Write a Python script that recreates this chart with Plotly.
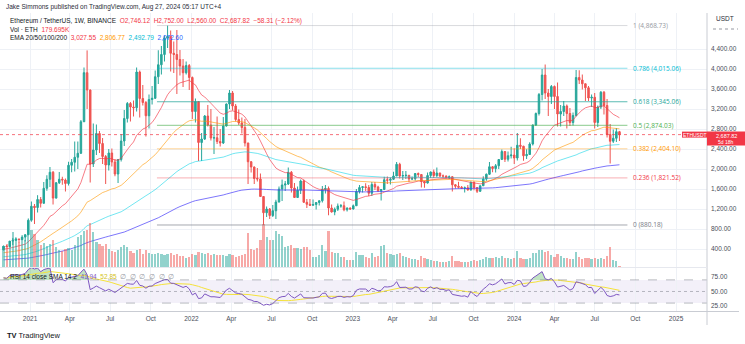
import plotly.graph_objects as go
import pandas as pd

W, H = 745, 344

# ---------------- data (weekly ETH/USDT) ----------------
first_open = 383
close_2020 = [454, 447, 558, 575, 601, 590, 638, 685, 975]
high_2020 = [470, 478, 560, 622, 635, 603, 677, 698, 1011]
low_2020 = [374, 440, 445, 480, 560, 530, 575, 550, 680]
vol_2020 = [4.2, 4.6, 4.4, 7.0, 5.6, 5.0, 6.0, 5.4, 6.6]

close_2021 = [1255, 1230, 1390, 1314, 1614, 1795, 1935, 1418, 1724, 1795, 1780, 1710, 2075,
              2135, 2235, 2315, 2945, 3926, 3580, 2100, 2380, 2710, 2510, 2250, 2080, 2320,
              2140, 1900, 2190, 2560, 3010, 3310, 3240, 3225, 3940, 3410, 3330, 3065, 3390,
              3415, 3845, 4085, 4290, 4620, 4650, 4315, 4290, 4190, 4060, 3925, 4070, 3830]
high_2021 = [1350, 1300, 1476, 1440, 1740, 1875, 2040, 1960, 1740, 1940, 1845, 1810, 2145,
             2200, 2550, 2550, 2980, 4030, 4372, 3590, 2910, 2890, 2760, 2620, 2280, 2400,
             2410, 2200, 2200, 2700, 3180, 3340, 3340, 3370, 4030, 3970, 3680, 3360, 3490,
             3660, 3970, 4375, 4460, 4670, 4868, 4770, 4550, 4780, 4380, 4200, 4150, 4100]
low_2021 = [945, 900, 1130, 1230, 1310, 1565, 1640, 1290, 1410, 1700, 1685, 1550, 1670,
            1935, 1950, 2000, 2300, 2940, 3200, 1730, 2040, 2280, 2320, 2100, 1700, 1970,
            2050, 1855, 1720, 2150, 2460, 2930, 2950, 3050, 3150, 3030, 3270, 2650, 2810,
            3290, 3400, 3700, 3890, 4150, 4420, 3950, 3920, 3500, 3870, 3640, 3890, 3580]
vol_2021 = [7.4, 6.6, 5.4, 4.4, 4.8, 4.2, 4.6, 5.4, 4.0, 3.4, 3.2, 3.6, 3.8,
            3.4, 4.4, 6.0, 6.4, 7.2, 7.4, 8.8, 7.0, 5.0, 4.6, 4.2, 4.6, 3.6,
            3.2, 3.0, 3.4, 4.0, 4.4, 4.0, 3.2, 2.8, 3.4, 3.6, 2.6, 3.4, 2.8,
            2.6, 2.6, 2.8, 2.6, 2.4, 2.6, 2.8, 2.4, 2.6, 2.2, 2.2, 1.8, 2.0]

close_2022 = [3150, 3350, 2530, 2600, 3060, 2880, 2620, 2625, 2550, 2520, 2860, 3300, 3520,
              3260, 2990, 2920, 2830, 2520, 2145, 2040, 1810, 1800, 1450, 1125, 1200, 1070,
              1165, 1340, 1600, 1680, 1700, 1935, 1620, 1430, 1575, 1760, 1335, 1295, 1275,
              1290, 1330, 1365, 1590, 1610, 1220, 1140, 1195, 1260, 1265, 1185, 1220, 1200]
high_2022 = [3850, 3410, 3360, 2720, 3080, 3280, 3200, 2840, 3050, 2800, 3040, 3310, 3580,
             3560, 3300, 3190, 3030, 3000, 2525, 2160, 2050, 2020, 1910, 1450, 1250, 1220,
             1280, 1385, 1650, 1790, 1760, 2030, 1960, 1720, 1650, 1790, 1790, 1400, 1400,
             1390, 1340, 1370, 1660, 1680, 1650, 1290, 1230, 1310, 1300, 1350, 1230, 1230]
low_2022 = [3000, 2930, 2160, 2160, 2580, 2850, 2570, 2300, 2500, 2450, 2500, 2850, 3200,
            3170, 2950, 2880, 2710, 2450, 1700, 1930, 1700, 1750, 1440, 880.18, 1040, 1000,
            1040, 1000, 1330, 1360, 1560, 1680, 1530, 1420, 1420, 1500, 1320, 1220, 1260,
            1265, 1190, 1270, 1330, 1510, 1075, 1130, 1075, 1160, 1225, 1155, 1150, 1180]
vol_2022 = [2.6, 2.4, 3.0, 2.8, 2.6, 2.8, 2.4, 2.6, 2.4, 2.4, 2.4, 2.2, 2.6,
            2.4, 2.0, 2.2, 2.4, 2.6, 6.8, 3.6, 3.4, 3.8, 5.4, 8.6, 6.0, 5.4,
            5.4, 7.2, 6.6, 6.2, 4.0, 4.2, 4.4, 3.8, 3.8, 3.6, 4.0, 4.0, 3.4,
            2.0, 2.0, 2.4, 4.4, 3.2, 7.2, 3.0, 2.8, 2.8, 2.0, 2.0, 1.4, 1.4]

close_2023 = [1265, 1550, 1630, 1645, 1630, 1515, 1690, 1640, 1565, 1590, 1785, 1775, 1795,
              1860, 2095, 1860, 1870, 1875, 1800, 1805, 1910, 1890, 1750, 1720, 1870, 1940,
              1870, 1920, 1860, 1860, 1825, 1845, 1685, 1655, 1635, 1615, 1625, 1580, 1735,
              1630, 1555, 1665, 1800, 1895, 2045, 2010, 2065, 2190, 2350, 2195, 2265, 2280]
high_2023 = [1290, 1600, 1680, 1660, 1715, 1680, 1740, 1740, 1665, 1600, 1845, 1850, 1830,
             1945, 2140, 2125, 1960, 1960, 1880, 1850, 1920, 1930, 1890, 1760, 1930, 1950,
             1990, 2030, 1925, 1890, 1870, 1870, 1860, 1700, 1745, 1660, 1650, 1680, 1750,
             1750, 1630, 1670, 1855, 1910, 2140, 2060, 2100, 2200, 2390, 2350, 2350, 2445]
low_2023 = [1190, 1260, 1510, 1530, 1560, 1460, 1460, 1580, 1540, 1370, 1580, 1700, 1690,
            1780, 1860, 1810, 1780, 1800, 1740, 1780, 1770, 1840, 1630, 1625, 1710, 1820,
            1820, 1835, 1840, 1820, 1815, 1800, 1550, 1610, 1610, 1600, 1530, 1570, 1570,
            1575, 1520, 1540, 1660, 1765, 1880, 1935, 1930, 2000, 2190, 2140, 2150, 2210]
vol_2023 = [1.4, 3.0, 2.4, 2.4, 2.0, 1.8, 2.8, 2.0, 2.2, 4.2, 4.4, 2.8, 2.6,
            2.4, 2.6, 2.8, 2.2, 2.0, 1.8, 1.6, 1.6, 1.4, 2.2, 1.8, 1.6, 1.4,
            1.2, 1.2, 1.0, 1.0, 1.0, 1.2, 2.2, 1.2, 1.2, 1.0, 1.0, 1.0, 1.2,
            1.4, 1.2, 1.4, 1.6, 2.0, 1.8, 1.8, 2.0, 1.8, 2.2, 1.8, 1.8, 1.6]

close_2024 = [2220, 2475, 2455, 2265, 2290, 2500, 2880, 3110, 3490, 3880, 3520, 3450, 3650,
              3450, 3100, 3150, 3260, 3110, 2930, 3070, 3830, 3780, 3705, 3625, 3420, 3435,
              2930, 3240, 3535, 3270, 2690, 2555, 2615, 2746.12, 2687.82]
high_2024 = [2415, 2720, 2615, 2465, 2395, 2535, 2890, 3130, 3520, 4000, 4090, 3600, 3680,
             3670, 3730, 3280, 3360, 3290, 3220, 3130, 3980, 3975, 3890, 3710, 3660, 3490,
             3520, 3270, 3560, 3560, 3400, 2900, 2790, 2820, 2762]
low_2024 = [2100, 2170, 2400, 2165, 2200, 2280, 2470, 2860, 3070, 3370, 3400, 3060, 3300,
            3200, 2850, 2850, 3060, 2810, 2860, 2870, 3050, 3700, 3590, 3360, 3360, 3240,
            2810, 2840, 3200, 3090, 2630, 2110, 2520, 2540, 2560]
vol_2024 = [1.8, 3.2, 1.8, 1.6, 1.6, 1.8, 2.8, 2.8, 3.4, 3.4, 3.0, 3.2, 2.4,
            2.0, 2.6, 2.2, 1.8, 1.8, 1.6, 1.6, 3.0, 2.0, 1.6, 1.8, 1.8, 1.6,
            1.8, 1.6, 1.8, 1.6, 2.2, 4.0, 1.4, 1.2, 0.18]

# indicator starting states (values before the first visible bar)
ema_lengths = [20, 50, 100, 200]
ema_seeds = [390, 320, 240, 180]
rsi_seed_gain, rsi_seed_loss = 28.0, 12.0

fib_ratios = [1, 0.786, 0.618, 0.5, 0.382, 0.236, 0]
fib_prices = [4868.73, 4015.06, 3345.06, 2874.03, 2404.10, 1821.52, 880.18]
fib_colors = ["#9598a1", "#00bcd4", "#26a69a", "#4caf50", "#ff9800", "#f23645", "#787b86"]
fib_opacity = [0.35, 0.45, 0.75, 0.65, 0.4, 0.4, 0.65]
fib_start, fib_end = "2021-10-15", "2024-09-13"

price_ticks = [400, 800, 1200, 1600, 2000, 2400, 2800, 3200, 3600, 4000, 4400]
rsi_ticks = [25, 50, 75]
time_ticks = ["2021-01-01", "2021-04-01", "2021-07-01", "2021-10-01", "2022-01-01", "2022-04-01",
              "2022-07-01", "2022-10-01", "2023-01-01", "2023-04-01", "2023-07-01", "2023-10-01",
              "2024-01-01", "2024-04-01", "2024-07-01", "2024-10-01", "2025-01-01"]
time_labels = ["2021", "Apr", "Jul", "Oct", "2022", "Apr", "Jul", "Oct", "2023", "Apr", "Jul", "Oct",
               "2024", "Apr", "Jul", "Oct", "2025"]

# ---------------- assemble ----------------
closes = close_2020 + close_2021 + close_2022 + close_2023 + close_2024
highs = high_2020 + high_2021 + high_2022 + high_2023 + high_2024
lows = low_2020 + low_2021 + low_2022 + low_2023 + low_2024
vols = vol_2020 + vol_2021 + vol_2022 + vol_2023 + vol_2024
opens = [first_open] + closes[:-1]
dates = pd.date_range("2020-11-02", periods=len(closes), freq="7D")

def ema(vals, n, seed):
    a = 2.0 / (n + 1)
    e, out = seed, []
    for v in vals:
        e = e + a * (v - e)
        out.append(e)
    return out

def rsi(vals, n, prev, g, l):
    out = []
    for v in vals:
        ch = v - prev
        prev = v
        g = (g * (n - 1) + max(ch, 0)) / n
        l = (l * (n - 1) + max(-ch, 0)) / n
        out.append(100 - 100 / (1 + g / l))
    return out

rsi_vals = rsi(closes, 14, first_open, rsi_seed_gain, rsi_seed_loss)
rsi_ma = pd.Series(rsi_vals).rolling(14, min_periods=1).mean().tolist()

UP, DN = "#26a69a", "#ef5350"
fig = go.Figure()

# volume
vcol = ["rgba(38,166,154,0.5)" if c >= o else "rgba(239,83,80,0.5)" for o, c in zip(opens, closes)]
fig.add_trace(go.Bar(x=dates, y=vols, marker_color=vcol, marker_line_width=0,
                     width=7 * 86400000 * 0.72, xaxis="x", yaxis="y3", hoverinfo="skip"))

# EMAs
ema_colors = ["rgba(242,54,69,0.65)", "rgba(255,152,0,0.6)", "rgba(0,210,230,0.55)", "rgba(70,60,250,0.7)"]
for n, s, c in zip(ema_lengths, ema_seeds, ema_colors):
    fig.add_trace(go.Scatter(x=dates, y=ema(closes, n, s), mode="lines",
                             line=dict(color=c, width=1), xaxis="x", yaxis="y", hoverinfo="skip"))

# candles
fig.add_trace(go.Candlestick(x=dates, open=opens, high=highs, low=lows, close=closes,
                             increasing=dict(line=dict(color=UP, width=1), fillcolor=UP),
                             decreasing=dict(line=dict(color=DN, width=1), fillcolor=DN),
                             whiskerwidth=0, xaxis="x", yaxis="y", hoverinfo="skip"))

# RSI pane
fig.add_trace(go.Scatter(x=dates, y=[70] * len(dates), mode="lines", line=dict(width=0),
                         xaxis="x2", yaxis="y2", hoverinfo="skip"))
fig.add_trace(go.Scatter(x=dates, y=[max(v, 70) for v in rsi_vals], mode="lines", line=dict(width=0),
                         fill="tonexty", fillcolor="rgba(76,175,80,0.35)", xaxis="x2", yaxis="y2",
                         hoverinfo="skip"))
fig.add_trace(go.Scatter(x=dates, y=rsi_ma, mode="lines", line=dict(color="#f5e23a", width=1),
                         xaxis="x2", yaxis="y2", hoverinfo="skip"))
fig.add_trace(go.Scatter(x=dates, y=rsi_vals, mode="lines", line=dict(color="#7e57c2", width=1),
                         xaxis="x2", yaxis="y2", hoverinfo="skip"))

def py(p):
    return 1 - p / H

def px(x):
    return x / W

XR = 707 / W
shapes = []
# RSI band & levels
shapes.append(dict(type="rect", xref="x2 domain", yref="y2", x0=0, x1=1, y0=30, y1=70,
                   fillcolor="rgba(126,87,194,0.09)", line_width=0, layer="below"))
for lv, dash in [(70, "dash"), (50, "dot"), (30, "dash")]:
    shapes.append(dict(type="line", xref="x2 domain", yref="y2", x0=0, x1=1, y0=lv, y1=lv,
                       line=dict(color="rgba(120,123,134,0.5)", width=1, dash=dash)))
# fib levels
annotations = []
for r, p, c, op in zip(fib_ratios, fib_prices, fib_colors, fib_opacity):
    shapes.append(dict(type="line", xref="x", yref="y", x0=fib_start, x1=fib_end, y0=p, y1=p,
                       line=dict(color=c, width=1), opacity=op))
    annotations.append(dict(xref="x", yref="y", x=fib_end, y=p, xanchor="left", yanchor="middle",
                            xshift=4, showarrow=False, text=f"{r} ({p:,.2f})",
                            font=dict(size=6.5, color=c)))
# last price line
last = closes[-1]
shapes.append(dict(type="line", xref="x domain", yref="y", x0=0, x1=1, y0=last, y1=last,
                   line=dict(color="rgba(242,54,69,0.7)", width=1, dash="dot")))
# frame lines
shapes.append(dict(type="line", xref="paper", yref="paper", x0=XR, x1=XR, y0=py(325), y1=py(13),
                   line=dict(color="#c9ccd3", width=1)))
shapes.append(dict(type="line", xref="paper", yref="paper", x0=0, x1=px(739), y0=py(311.5), y1=py(311.5),
                   line=dict(color="#c9ccd3", width=1)))
shapes.append(dict(type="line", xref="paper", yref="paper", x0=0, x1=XR, y0=py(267.5), y1=py(267.5),
                   line=dict(color="#e6e8ee", width=1)))
shapes.append(dict(type="line", xref="paper", yref="paper", x0=px(713), x1=px(738), y0=py(29), y1=py(29),
                   line=dict(color="#9598a1", width=1, dash="dot")))
# price tags
shapes.append(dict(type="rect", xref="paper", yref="y", x0=px(682), x1=XR, y0=last - 60, y1=last + 60,
                   fillcolor="#f23645", line_width=0))
shapes.append(dict(type="rect", xref="paper", yref="paper", x0=XR, x1=1, y0=py(145.5), y1=py(131.5),
                   fillcolor="#f23645", line_width=0))

F = "Liberation Sans, Arial, sans-serif"
def note(x, y, text, size=6.5, color="#131722", anchor="left"):
    annotations.append(dict(xref="paper", yref="paper", x=px(x), y=py(y), xanchor=anchor,
                            yanchor="middle", showarrow=False, text=text,
                            font=dict(size=size, color=color, family=F)))

note(4, 7, "Jake Simmons published on TradingView.com, Aug 27, 2024 05:17 UTC+4", 6.5, "#2a2e39")
red = "#f23645"
note(8, 21, "Ethereum / TetherUS, 1W, BINANCE  "
     f"<span style='color:{red}'>O2,746.12  H2,752.00  L2,560.00  C2,687.82  −58.31 (−2.12%)</span>")
note(8, 29.5, f"Vol · ETH  <span style='color:{red}'>179.695K</span>")
note(8, 38, "EMA 20/50/100/200  "
     f"<span style='color:{red}'>3,027.55</span>  <span style='color:#ff9800'>2,806.77</span>  "
     "<span style='color:#00bcd4'>2,492.79</span>  <span style='color:#2962ff'>2,072.60</span>")
note(8, 276, "RSI 14 close SMA 14 2  <span style='color:#7e57c2'>41.94</span>  "
     "<span style='color:#d4c21a'>52.85</span>  "
     "<span style='color:#9598a1'>∅  ∅  ∅  ∅  ∅  ∅</span>")
note(725, 19, "USDT", 6.5, "#2a2e39", "center")
note(694.5, 134.6, "ETHUSDT", 5, "white", "center")
note(726, 136, f"{last:,.2f}", 5.5, "white", "center")
note(726, 142, "5d 18h", 5, "white", "center")
note(5, 335, "<b>TV</b> TradingView", 7.5, "#131722")

axis_font = dict(size=6.5, color="#4a4e59", family=F)
fig.update_layout(
    width=W, height=H, margin=dict(l=0, r=0, t=0, b=0),
    paper_bgcolor="white", plot_bgcolor="white", showlegend=False, hovermode=False,
    shapes=shapes, annotations=annotations, bargap=0,
    xaxis=dict(domain=[0, XR], type="date", range=["2020-10-25", "2025-03-12"],
               tickvals=time_ticks, showticklabels=False, ticks="", showgrid=True,
               gridcolor="#eef1f6", gridwidth=1, zeroline=False, anchor="y",
               rangeslider=dict(visible=False)),
    xaxis2=dict(domain=[0, XR], type="date", matches="x", tickvals=time_ticks,
                ticktext=time_labels, ticks="", showgrid=True, gridcolor="#eef1f6",
                tickfont=axis_font, anchor="y2", zeroline=False, ticklabelstandoff=2),
    yaxis=dict(domain=[py(267), py(13)], range=[40, 5120], side="right", anchor="x",
               tickvals=price_ticks, ticktext=[f"{v:,.2f}" for v in price_ticks], ticks="",
               showgrid=True, gridcolor="#eef1f6", zeroline=False, tickfont=axis_font,
               ticklabelstandoff=3),
    yaxis3=dict(overlaying="y", range=[0, 50.8], visible=False, anchor="x"),
    yaxis2=dict(domain=[py(311), py(268)], range=[16.37, 90.5], side="right", anchor="x2",
                tickvals=rsi_ticks, ticktext=[f"{v:.2f}" for v in rsi_ticks], ticks="",
                showgrid=False, zeroline=False, tickfont=axis_font, ticklabelstandoff=3),
)

fig.write_html("out.html")
